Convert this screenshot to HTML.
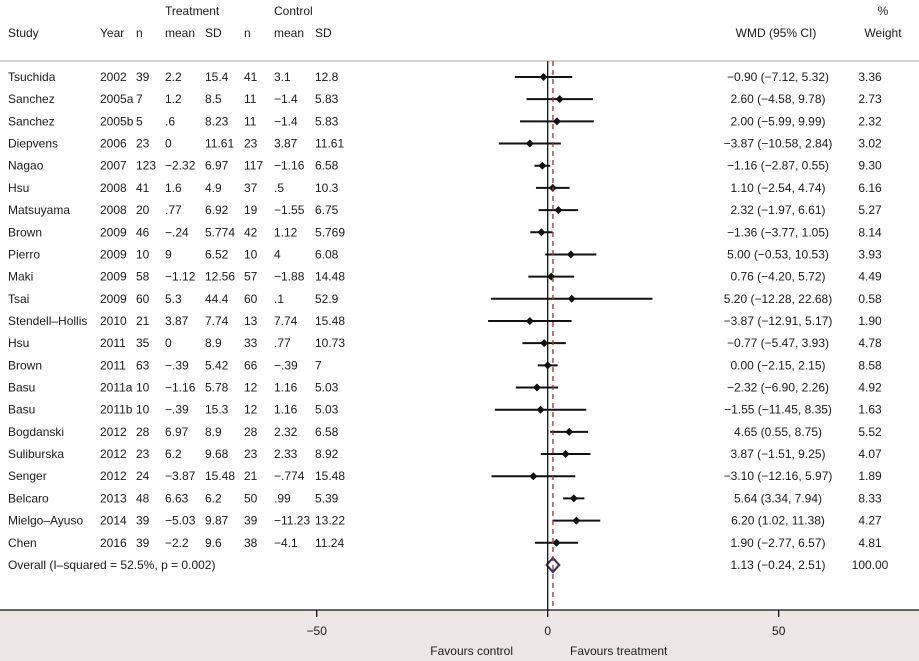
<!DOCTYPE html>
<html><head><meta charset="utf-8"><style>
body{margin:0;background:#fff;}
svg{display:block;font-family:"Liberation Sans",sans-serif;font-size:12px;fill:#1a1a1a;}
</style></head><body>
<svg id="chart" width="919" height="661" viewBox="0 0 919 661" xmlns="http://www.w3.org/2000/svg">
<rect x="0" y="610" width="919" height="51" fill="#ece6e5"/>
<line x1="0" y1="61" x2="919" y2="61" stroke="#bdb8b8" stroke-width="1.2"/>
<g>
<text x="165" y="15">Treatment</text><text x="274" y="15">Control</text>
<text x="8" y="37">Study</text><text x="100" y="37">Year</text><text x="136" y="37">n</text>
<text x="165" y="37">mean</text><text x="205" y="37">SD</text><text x="244" y="37">n</text>
<text x="274" y="37">mean</text><text x="315" y="37">SD</text>
<text x="776" y="37" text-anchor="middle">WMD (95% CI)</text>
<text x="883" y="15" text-anchor="middle">%</text><text x="883" y="37" text-anchor="middle">Weight</text>
</g>
<g id="rows"></g>
<g id="axis"></g>
</svg>
<script>
const studies=["Tsuchida","Sanchez","Sanchez","Diepvens","Nagao","Hsu","Matsuyama","Brown","Pierro","Maki","Tsai","Stendell\u2013Hollis","Hsu","Brown","Basu","Basu","Bogdanski","Suliburska","Senger","Belcaro","Mielgo\u2013Ayuso","Chen"];
const years=["2002","2005a","2005b","2006","2007","2008","2008","2009","2009","2009","2009","2010","2011","2011","2011a","2011b","2012","2012","2012","2013","2014","2016"];
const tN=["39","7","5","23","123","41","20","46","10","58","60","21","35","63","10","10","28","23","24","48","39","39"];
const tMean=["2.2","1.2",".6","0","\u22122.32","1.6",".77","\u2212.24","9","\u22121.12","5.3","3.87","0","\u2212.39","\u22121.16","\u2212.39","6.97","6.2","\u22123.87","6.63","\u22125.03","\u22122.2"];
const tSD=["15.4","8.5","8.23","11.61","6.97","4.9","6.92","5.774","6.52","12.56","44.4","7.74","8.9","5.42","5.78","15.3","8.9","9.68","15.48","6.2","9.87","9.6"];
const cN=["41","11","11","23","117","37","19","42","10","57","60","13","33","66","12","12","28","23","21","50","39","38"];
const cMean=["3.1","\u22121.4","\u22121.4","3.87","\u22121.16",".5","\u22121.55","1.12","4","\u22121.88",".1","7.74",".77","\u2212.39","1.16","1.16","2.32","2.33","\u2212.774",".99","\u221211.23","\u22124.1"];
const cSD=["12.8","5.83","5.83","11.61","6.58","10.3","6.75","5.769","6.08","14.48","52.9","15.48","10.73","7","5.03","5.03","6.58","8.92","15.48","5.39","13.22","11.24"];
const wmd=[-0.90,2.60,2.00,-3.87,-1.16,1.10,2.32,-1.36,5.00,0.76,5.20,-3.87,-0.77,0.00,-2.32,-1.55,4.65,3.87,-3.10,5.64,6.20,1.90];
const lo=[-7.12,-4.58,-5.99,-10.58,-2.87,-2.54,-1.97,-3.77,-0.53,-4.20,-12.28,-12.91,-5.47,-2.15,-6.90,-11.45,0.55,-1.51,-12.16,3.34,1.02,-2.77];
const hi=[5.32,9.78,9.99,2.84,0.55,4.74,6.61,1.05,10.53,5.72,22.68,5.17,3.93,2.15,2.26,8.35,8.75,9.25,5.97,7.94,11.38,6.57];
const weight=["3.36","2.73","2.32","3.02","9.30","6.16","5.27","8.14","3.93","4.49","0.58","1.90","4.78","8.58","4.92","1.63","5.52","4.07","1.89","8.33","4.27","4.81"];
const overall=[1.13,-0.24,2.51];
const overallLabel="Overall  (I\u2013squared = 52.5%, p = 0.002)";
const overallWeight="100.00";
const ticks=[-50,0,50];

const NS="http://www.w3.org/2000/svg";
const X=v=>547.7+v*4.62;
const Y=i=>77+i*22.18;
const fmt=v=>(v<0?"\u2212":"")+Math.abs(v).toFixed(2);
function mk(tag,attrs,parent,txt){const e=document.createElementNS(NS,tag);for(const k in attrs)e.setAttribute(k,attrs[k]);if(txt!==undefined)e.textContent=txt;parent.appendChild(e);return e;}
const rows=document.getElementById('rows');
const axis=document.getElementById('axis');
const yTop=61,yAx=610;
let z=mk('line',{x1:X(0),y1:yTop,x2:X(0),y2:yAx,stroke:'#111','stroke-width':1.3},axis);


let d=mk('line',{x1:X(overall[0]),y1:yTop,x2:X(overall[0]),y2:yAx,stroke:'#a0353d','stroke-width':1.3,'stroke-dasharray':'5,4'},axis);


const cols=[8,100,136,165,205,244,274,315];
studies.forEach((s,i)=>{
  const g=mk('g',{},rows);
  
  
  const y=Y(i);
  const vals=[s,years[i],tN[i],tMean[i],tSD[i],cN[i],cMean[i],cSD[i]];
  vals.forEach((v,j)=>mk('text',{x:cols[j],y:y+4},g,v));
  const ci=mk('line',{x1:X(lo[i]),y1:y,x2:X(hi[i]),y2:y,stroke:'#111','stroke-width':2},g);
  
  
  const cx=X(wmd[i]);
  const m=mk('polygon',{points:`${cx-4},${y} ${cx},${y-4} ${cx+4},${y} ${cx},${y+4}`,fill:'#111'},g);
  
  
  mk('text',{x:778,y:y+4,'text-anchor':'middle'},g,`${fmt(wmd[i])} (${fmt(lo[i])}, ${fmt(hi[i])})`);
  mk('text',{x:870,y:y+4,'text-anchor':'middle'},g,weight[i]);
});
const oy=Y(studies.length);
const og=mk('g',{},rows);


mk('text',{x:8,y:oy+4},og,overallLabel);
const dm=mk('polygon',{points:`${X(overall[1])},${oy} ${X(overall[0])},${oy-7} ${X(overall[2])},${oy} ${X(overall[0])},${oy+7}`,fill:'none',stroke:'#3b2a55','stroke-width':2},og);


mk('text',{x:778,y:oy+4,'text-anchor':'middle'},og,`${fmt(overall[0])} (${fmt(overall[1])}, ${fmt(overall[2])})`);
mk('text',{x:870,y:oy+4,'text-anchor':'middle'},og,overallWeight);
const al=mk('line',{x1:0,y1:yAx,x2:919,y2:yAx,stroke:'#111','stroke-width':1.3},axis);


ticks.forEach(t=>{
  const tl=mk('line',{x1:X(t),y1:yAx,x2:X(t),y2:yAx+7,stroke:'#111','stroke-width':1.3},axis);
  
  
  const tx=mk('text',{x:X(t),y:635,'text-anchor':'middle'},axis,t<0?"\u2212"+Math.abs(t):String(t));
  
  
});
const f1=mk('text',{x:513,y:655,'text-anchor':'end'},axis,'Favours control');


const f2=mk('text',{x:570,y:655},axis,'Favours treatment');


</script>
</body></html>
